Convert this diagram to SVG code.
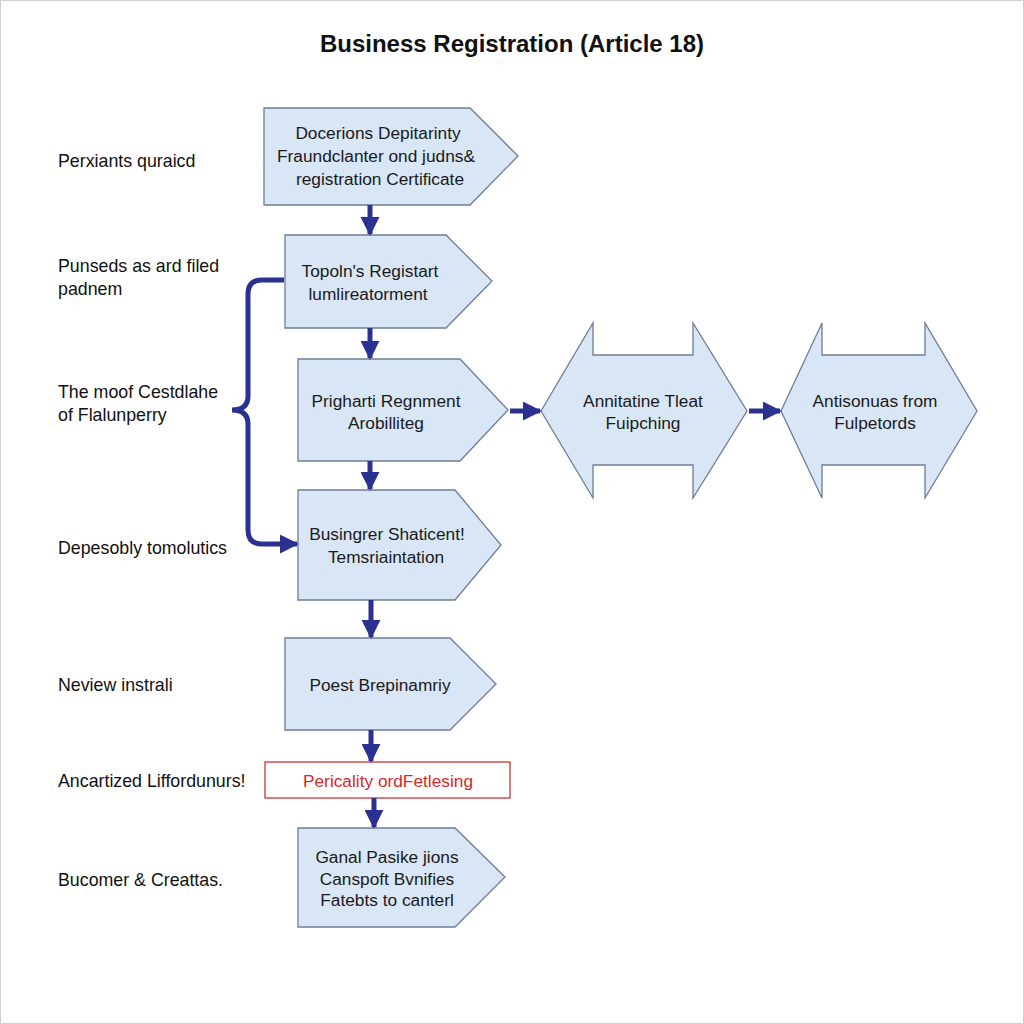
<svg xmlns="http://www.w3.org/2000/svg" width="1024" height="1024" viewBox="0 0 1024 1024">
<defs>
<style>
.node{fill:#d9e6f6;stroke:#6f7d96;stroke-width:1.3}
.t{font-family:"Liberation Sans",Arial,sans-serif;font-size:17.3px;fill:#1a1a1a;text-anchor:middle}
.lbl{font-family:"Liberation Sans",Arial,sans-serif;font-size:17.8px;fill:#111}
.con{fill:none;stroke:#2b3190;stroke-width:5}
</style>
<marker id="ah" viewBox="0 0 10 10" refX="9" refY="5" markerWidth="3.8" markerHeight="3.8" orient="auto" markerUnits="strokeWidth">
<path d="M0,0 L10,5 L0,10 z" fill="#2b3190"/>
</marker>
</defs>
<rect x="0" y="0" width="1024" height="1024" fill="#ffffff"/>
<rect x="0.5" y="0.5" width="1023" height="1023" fill="none" stroke="#d0d0d0"/>
<text x="512" y="52" font-family="Liberation Sans,Arial,sans-serif" font-size="24" font-weight="bold" fill="#111" text-anchor="middle">Business Registration  (Article  18)</text>

<g id="labels">
<text class="lbl" x="58" y="167">Perxiants quraicd</text>
<text class="lbl" x="58" y="272">Punseds as ard filed</text>
<text class="lbl" x="58" y="295">padnem</text>
<text class="lbl" x="58" y="398">The moof Cestdlahe</text>
<text class="lbl" x="58" y="421">of Flalunperry</text>
<text class="lbl" x="58" y="554">Depesobly tomolutics</text>
<text class="lbl" x="58" y="691">Neview instrali</text>
<text class="lbl" x="58" y="787">Ancartized Liffordunurs!</text>
<text class="lbl" x="58" y="886">Bucomer &amp; Creattas.</text>
</g>

<g id="n1">
<polygon class="node" points="264,108 470,108 518,156 470,205 264,205"/>
<text class="t" x="378" y="139">Docerions Depitarinty</text>
<text class="t" x="376" y="162">Fraundclanter ond judns&amp;</text>
<text class="t" x="380" y="185">registration Certificate</text>
</g>
<g id="n2">
<polygon class="node" points="285,235 446,235 492,281 446,328 285,328"/>
<text class="t" x="370" y="277">Topoln's Registart</text>
<text class="t" x="368" y="300">lumlireatorment</text>
</g>
<g id="n3">
<polygon class="node" points="298,359 460,359 508,410 460,461 298,461"/>
<text class="t" x="386" y="407">Prigharti Regnment</text>
<text class="t" x="386" y="429">Arobilliteg</text>
</g>
<g id="n4">
<polygon class="node" points="298,490 455,490 501,545 455,600 298,600"/>
<text class="t" x="387" y="540">Busingrer Shaticent!</text>
<text class="t" x="386" y="563">Temsriaintation</text>
</g>
<g id="n5">
<polygon class="node" points="285,638 450,638 496,684 450,730 285,730"/>
<text class="t" x="380" y="691">Poest Brepinamriy</text>
</g>
<g id="n6">
<rect x="265" y="762" width="245" height="36" fill="#ffffff" stroke="#cc3333" stroke-width="1.3"/>
<text class="t" x="388" y="787" style="fill:#d42a2a">Pericality ordFetlesing</text>
</g>
<g id="n7">
<polygon class="node" points="298,828 455,828 505,877 455,927 298,927"/>
<text class="t" x="387" y="863">Ganal Pasike jions</text>
<text class="t" x="387" y="885">Canspoft Bvnifies</text>
<text class="t" x="387" y="906">Fatebts to canterl</text>
</g>
<g id="hA">
<polygon class="node" points="541,411 593,323 593,355 693,355 693,323 747,411 693,498 693,465 593,465 593,498"/>
<text class="t" x="643" y="407">Annitatine Tleat</text>
<text class="t" x="643" y="429">Fuipching</text>
</g>
<g id="hB">
<polygon class="node" points="781,411 822,323 822,355 925,355 925,323 977,411 925,498 925,465 822,465 822,498"/>
<text class="t" x="875" y="407">Antisonuas from</text>
<text class="t" x="875" y="429">Fulpetords</text>
</g>

<g id="connectors">
<path class="con" d="M370,205 V234" marker-end="url(#ah)"/>
<path class="con" d="M370,328 V358" marker-end="url(#ah)"/>
<path class="con" d="M370,461 V489" marker-end="url(#ah)"/>
<path class="con" d="M371,600 V637" marker-end="url(#ah)"/>
<path class="con" d="M371,730 V761" marker-end="url(#ah)"/>
<path class="con" d="M374,798 V827" marker-end="url(#ah)"/>
<path class="con" d="M510,411 H540" marker-end="url(#ah)"/>
<path class="con" d="M749,411 H780" marker-end="url(#ah)"/>
<path class="con" d="M284,280 H262 Q248,280 248,294 V396 Q248,410 232,410 Q248,410 248,424 V530 Q248,544 262,544 H297" marker-end="url(#ah)"/>
</g>
</svg>
